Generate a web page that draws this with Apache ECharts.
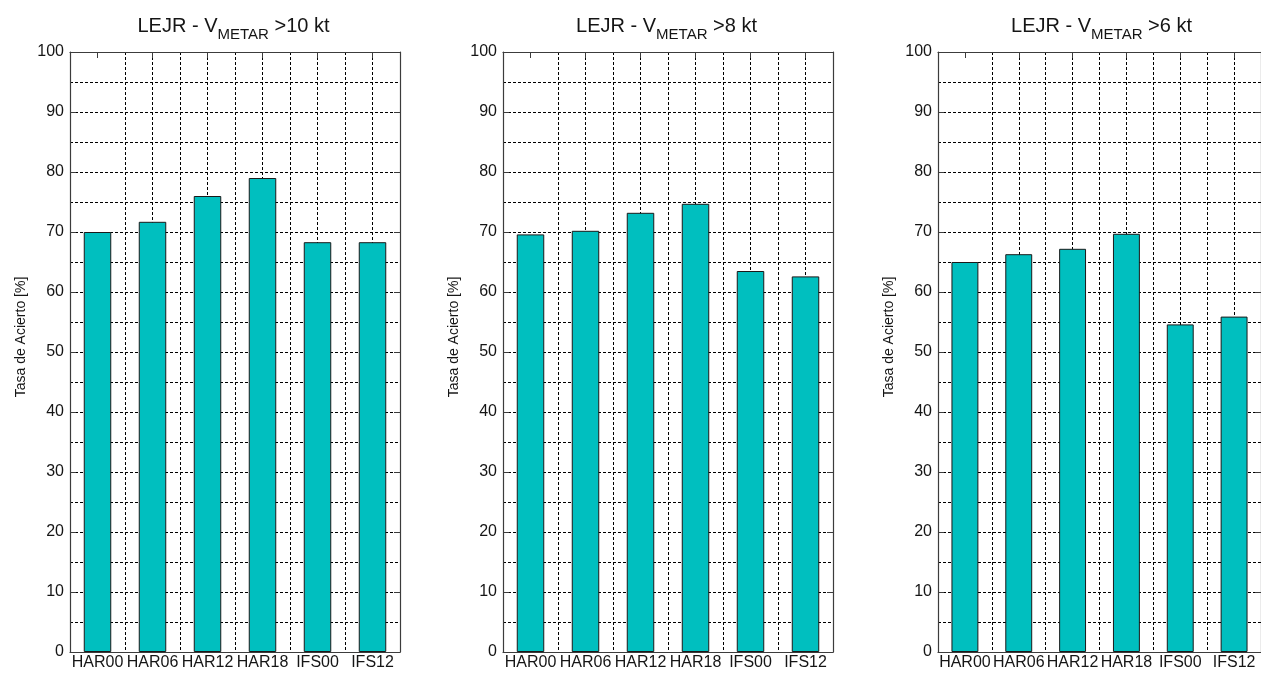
<!DOCTYPE html>
<html>
<head>
<meta charset="utf-8">
<script src="https://cdn.jsdelivr.net/npm/echarts@6/dist/echarts.min.js"></script>
<style>
  html, body { margin: 0; padding: 0; background: #ffffff; }
  #chart { width: 1261px; height: 673px; }
</style>
</head>
<body>
<div id="chart"></div>
<script>
// Forecast models compared at LEJR
const categories = ['HAR00', 'HAR06', 'HAR12', 'HAR18', 'IFS00', 'IFS12'];
// Wind-speed thresholds, one per panel
const thresholds = ['>10 kt', '>8 kt', '>6 kt'];
// Hit rate (%) per model for each threshold
const hitRateGt10 = [70.0, 71.7, 76.0, 79.0, 68.3, 68.3];
const hitRateGt8 = [69.6, 70.2, 73.2, 74.7, 63.5, 62.6];
const hitRateGt6 = [65.0, 66.3, 67.2, 69.7, 54.6, 55.9];
// Y axis scale
const yMin = 0;
const yMax = 100;
const yStep = 10;
const yName = 'Tasa de Acierto [%]';

const panelData = [hitRateGt10, hitRateGt8, hitRateGt6];

// Layout of the three panels
const panelLeft = [70, 503, 938];
const panelTop = 52;
const panelWidth = 330;
const panelHeight = 600;

const FONT = '"Liberation Sans", Arial, Helvetica, sans-serif';
const TEXT = '#151515';
const FRAME = '#3c3c3c';
const GRID_DASH = { color: '#000000', width: 1, type: [3, 2] };

// Vertical grid at band centres and band edges (x = 0.5 .. 6.5 step 0.5);
// the line through the first band centre is left out.
const vLineColors = [];
for (let k = 0; k < 13; k++) vLineColors.push(k === 1 ? 'rgba(0,0,0,0)' : '#000000');

const grid = [], xAxis = [], yAxis = [], series = [], graphic = [];

panelData.forEach((values, i) => {
  grid.push({
    left: panelLeft[i], top: panelTop, width: panelWidth, height: panelHeight,
    containLabel: false
  });

  // bottom category axis: labels and frame
  xAxis.push({
    type: 'category', gridIndex: i, position: 'bottom', data: categories,
    boundaryGap: true,
    axisLine: { show: true, onZero: false, lineStyle: { color: FRAME, width: 1.2 } },
    axisTick: { show: true, inside: true, alignWithLabel: true, length: 6, lineStyle: { color: FRAME } },
    axisLabel: { show: true, color: TEXT, fontFamily: FONT, fontSize: 16, margin: 3, interval: 0 },
    splitLine: { show: false }
  });
  // top category axis: frame with ticks
  xAxis.push({
    type: 'category', gridIndex: i, position: 'top', data: categories,
    boundaryGap: true,
    axisLine: { show: true, onZero: false, lineStyle: { color: FRAME, width: 1.2 } },
    axisTick: { show: true, inside: true, alignWithLabel: true, length: 6, lineStyle: { color: FRAME } },
    axisLabel: { show: false },
    splitLine: { show: false }
  });
  // hidden value axis carrying the dashed vertical grid
  xAxis.push({
    type: 'value', gridIndex: i, position: 'bottom', min: 0.5, max: 6.5, interval: 0.5,
    axisLine: { show: false }, axisTick: { show: false }, axisLabel: { show: false },
    splitLine: { show: true, lineStyle: { color: vLineColors, width: 1, type: [3, 2] } }
  });

  yAxis.push({
    type: 'value', gridIndex: i, position: 'left', min: yMin, max: yMax, interval: yStep,
    name: yName, nameLocation: 'middle', nameGap: 42,
    nameTextStyle: { color: TEXT, fontFamily: FONT, fontSize: 14, padding: [0, 0, 0, 30] },
    axisLine: { show: true, onZero: false, lineStyle: { color: FRAME, width: 1.2 } },
    axisTick: { show: true, inside: true, length: 6, lineStyle: { color: FRAME } },
    axisLabel: { show: true, color: TEXT, fontFamily: FONT, fontSize: 16, margin: 6 },
    splitLine: { show: true, lineStyle: GRID_DASH },
    minorTick: { show: false, splitNumber: 2 },
    minorSplitLine: { show: true, lineStyle: GRID_DASH }
  });
  yAxis.push({
    type: 'value', gridIndex: i, position: 'right', min: yMin, max: yMax, interval: yStep,
    axisLine: { show: true, onZero: false, lineStyle: { color: FRAME, width: 1.2 } },
    axisTick: { show: true, inside: true, length: 6, lineStyle: { color: FRAME } },
    axisLabel: { show: false },
    splitLine: { show: false }
  });

  series.push({
    type: 'bar', xAxisIndex: i * 3, yAxisIndex: i * 2, data: values,
    barWidth: '50%',
    itemStyle: { color: '#00bfbf', borderColor: '#1a1a1a', borderWidth: 1 },
    silent: true
  });

  graphic.push({
    type: 'text',
    x: panelLeft[i] + panelWidth / 2 - 1.5,
    y: 26,
    silent: true,
    style: {
      text: '{a|LEJR - V}{b|METAR}{a| ' + thresholds[i] + '}',
      align: 'center',
      verticalAlign: 'middle',
      rich: {
        a: { fontFamily: FONT, fontSize: 20, fill: TEXT, color: TEXT },
        b: { fontFamily: FONT, fontSize: 15, fill: TEXT, color: TEXT, padding: [18, 0, 0, 0] }
      }
    }
  });
});

const chart = echarts.init(document.getElementById('chart'), null, { renderer: 'canvas' });
chart.setOption({
  backgroundColor: '#ffffff',
  animation: false,
  grid, xAxis, yAxis, series, graphic
});
</script>
</body>
</html>
